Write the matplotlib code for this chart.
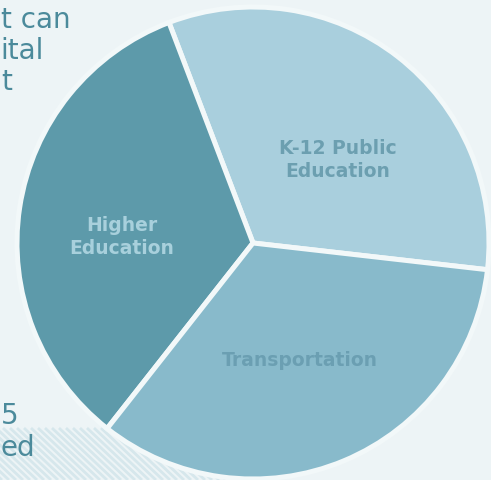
import matplotlib
matplotlib.use("Agg")
import matplotlib.pyplot as plt
import numpy as np

categories = ["K-12 Public\nEducation", "Higher\nEducation", "Transportation"]
values = [32.6, 33.6, 33.8]
colors = ["#a9cfdd", "#5d9aaa", "#88bacb"]
label_colors = ["#6c9fb0", "#a8d0dc", "#6b9fb2"]

W, H = 491, 480
fig = plt.figure(figsize=(W / 100, H / 100), dpi=100)
fig.patch.set_facecolor("#edf4f6")
ax = fig.add_axes([0, 0, 1, 1])

# diagonal stripes bottom-left
for k in range(-60, 200, 7):
    ax.plot([k, k + 55], [52, 0], color="#d6e7ec", lw=2.0, zorder=0, solid_capstyle="butt")

cx, cy, r = 253, 237, 236
wedges, _ = ax.pie(values, colors=colors, startangle=-6.5, counterclock=True,
                   center=(cx, cy), radius=r, frame=True,
                   wedgeprops=dict(edgecolor="#f2f8f9", linewidth=3.6))
ax.set_xlim(0, W)
ax.set_ylim(0, H)
ax.set_aspect("equal")
ax.axis("off")

font = "DejaVu Sans"
lab_pos = [(338, 320), (122, 243), (300, 119)]
for (x, y), t, c in zip(lab_pos, categories, label_colors):
    ax.text(x, y, t, ha="center", va="center", fontsize=13.5, color=c,
            fontweight="bold", family=font, linespacing=1.3)

txt_col = "#4b8a9b"
side = [("t can", 1, H - 20), ("ital", 0, H - 51), ("t", 1, H - 82),
        ("5", 1, H - 416), ("ed", 0, H - 448)]
for t, x, y in side:
    ax.text(x, y, t, ha="left", va="center", fontsize=20, color=txt_col, family=font)

fig.savefig("out.png", dpi=100, facecolor=fig.get_facecolor())
